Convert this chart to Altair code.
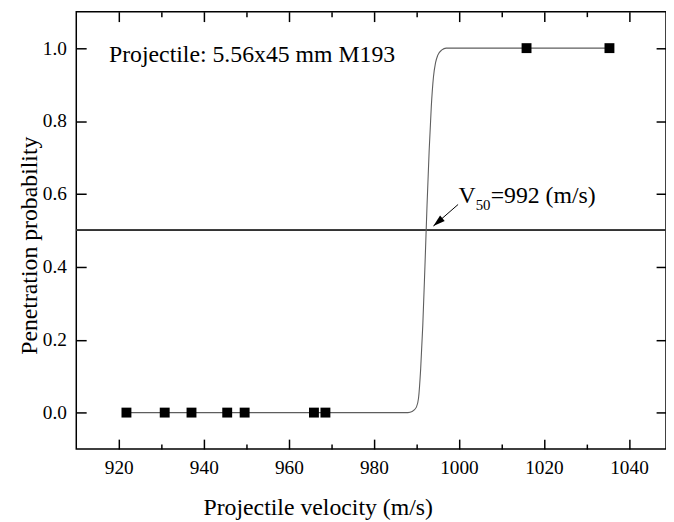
import altair as alt
import pandas as pd

# ---------------- data ----------------
fail_velocity = [921.8, 930.8, 937.1, 945.5, 949.6, 965.9, 968.6]
fail_prob = [0, 0, 0, 0, 0, 0, 0]
pass_velocity = [1015.9, 1035.4]
pass_prob = [1, 1]

curve_velocity = [921.8, 940, 960, 980, 988, 989, 990, 990.5, 991, 991.5, 992,
                  992.5, 993, 993.5, 994, 994.5, 995, 996, 997, 1000, 1020, 1035.4]
curve_prob = [0, 0, 0, 0, 0, 0.003, 0.015, 0.04, 0.12, 0.24, 0.40,
              0.57, 0.72, 0.84, 0.92, 0.96, 0.98, 0.995, 1.0, 1.0, 1.0, 1.0]

x_major = [920, 940, 960, 980, 1000, 1020, 1040]
x_minor = [930, 950, 970, 990, 1010, 1030]
y_ticks = [0.0, 0.2, 0.4, 0.6, 0.8, 1.0]
x_domain = [910, 1048.7]
y_domain = [-0.1, 1.1]

v50_level = 0.5
projectile_label = "Projectile: 5.56x45 mm M193"
projectile_pos = [917.7, 0.962]
v50_parts = ["V", "50", "=992 (m/s)"]
v50_pos = [999.9, 0.576]
arrow_tail = [999.8, 0.571]
arrow_tip = [994.0, 0.512]

FONT = "'Liberation Serif', 'Times New Roman', 'DejaVu Serif', serif"

pts = pd.DataFrame({"v": fail_velocity + pass_velocity, "p": fail_prob + pass_prob})
curve_df = pd.DataFrame({"v": curve_velocity, "p": curve_prob})
proj_df = pd.DataFrame({"v": [projectile_pos[0]], "p": [projectile_pos[1]], "t": [projectile_label]})
v50_df = pd.DataFrame({"v": [v50_pos[0]], "p": [v50_pos[1]]})
arrow_df = pd.DataFrame({"v": [arrow_tail[0]], "p": [arrow_tail[1]],
                         "v2": [arrow_tip[0]], "p2": [arrow_tip[1]]})
tip_df = pd.DataFrame({"v": [arrow_tip[0]], "p": [arrow_tip[1]]})

xs = alt.Scale(domain=x_domain, nice=False, zero=False)
ys = alt.Scale(domain=y_domain, nice=False, zero=False)

ax_bottom_major = alt.Axis(orient="bottom", values=x_major, offset=-10, tickSize=10,
                           labelPadding=10, format="d",
                           title="Projectile velocity (m/s)", titleX=244, titleY=76,
                           titleAlign="center", titleBaseline="alphabetic")
ax_bottom_minor = alt.Axis(orient="bottom", values=x_minor, offset=-5, tickSize=5,
                           labels=False, title=None)
ax_top_major = alt.Axis(orient="top", values=x_major, offset=-10, tickSize=10,
                        labels=False, title=None)
ax_top_minor = alt.Axis(orient="top", values=x_minor, offset=-5, tickSize=5,
                        labels=False, title=None)
ax_left = alt.Axis(orient="left", values=y_ticks, offset=-10, tickSize=10,
                   labelPadding=10, format=".1f",
                   title="Penetration probability", titleX=-49.7, titleY=236,
                   titleAngle=270, titleAlign="center", titleBaseline="alphabetic")
ax_right = alt.Axis(orient="right", values=y_ticks, offset=-10, tickSize=10,
                    labels=False, title=None)

curve = alt.Chart(curve_df).mark_line(color="#5e5e5e", strokeWidth=1.1,
                                      interpolate="monotone").encode(
    x=alt.X("v:Q", scale=xs, axis=ax_bottom_major),
    y=alt.Y("p:Q", scale=ys, axis=ax_left),
)

hline = alt.Chart(pts).mark_rule(color="#333333", strokeWidth=1.1).encode(
    y=alt.YDatum(v50_level, scale=ys, axis=None),
)

squares = alt.Chart(pts).mark_point(shape="square", filled=True, size=100,
                                    color="black", opacity=1).encode(
    x=alt.X("v:Q", scale=xs, axis=ax_bottom_minor),
    y=alt.Y("p:Q", scale=ys, axis=ax_right),
)

proj_text = alt.Chart(proj_df).mark_text(font=FONT, fontSize=24, align="left",
                                         baseline="alphabetic", color="black").encode(
    x=alt.X("v:Q", scale=xs, axis=ax_top_major),
    y=alt.Y("p:Q", scale=ys, axis=None),
    text="t:N",
)

v_text = alt.Chart(v50_df).mark_text(font=FONT, fontSize=24, align="left",
                                     baseline="alphabetic", color="black",
                                     text=v50_parts[0]).encode(
    x=alt.X("v:Q", scale=xs, axis=ax_top_minor),
    y=alt.Y("p:Q", scale=ys, axis=None),
)
sub_text = alt.Chart(v50_df).mark_text(font=FONT, fontSize=15, align="left",
                                       baseline="alphabetic", color="black",
                                       dx=17.3, dy=7, text=v50_parts[1]).encode(
    x=alt.X("v:Q", scale=xs, axis=None),
    y=alt.Y("p:Q", scale=ys, axis=None),
)
rest_text = alt.Chart(v50_df).mark_text(font=FONT, fontSize=24, align="left",
                                        baseline="alphabetic", color="black",
                                        dx=32.5, text=v50_parts[2]).encode(
    x=alt.X("v:Q", scale=xs, axis=None),
    y=alt.Y("p:Q", scale=ys, axis=None),
)

arrow_line = alt.Chart(arrow_df).mark_rule(color="black", strokeWidth=1).encode(
    x=alt.X("v:Q", scale=xs, axis=None),
    y=alt.Y("p:Q", scale=ys, axis=None),
    x2="v2:Q",
    y2="p2:Q",
)
arrow_head = alt.Chart(tip_df).mark_point(shape="M0,0L0.3,1L-0.3,1Z", filled=True,
                                          size=576, angle=229, color="black",
                                          opacity=1).encode(
    x=alt.X("v:Q", scale=xs, axis=None),
    y=alt.Y("p:Q", scale=ys, axis=None),
)

chart = alt.layer(
    hline, curve, squares, proj_text, v_text, sub_text, rest_text, arrow_line, arrow_head
).resolve_axis(
    x="independent", y="independent"
).properties(
    width=596, height=442,
    autosize=alt.AutoSizeParams(type="none"),
    padding={"left": 69, "top": 1, "right": 0, "bottom": 70},
    background="white",
).configure_view(
    stroke="black", strokeWidth=1.5
).configure_axis(
    grid=False, domain=False,
    tickColor="black", tickWidth=1.5,
    labelFont=FONT, labelFontSize=19.5, labelColor="black",
    titleFont=FONT, titleFontSize=24, titleColor="black", titleFontWeight="normal",
)

chart.save("out.html", embed_options={"renderer": "svg", "actions": False})
